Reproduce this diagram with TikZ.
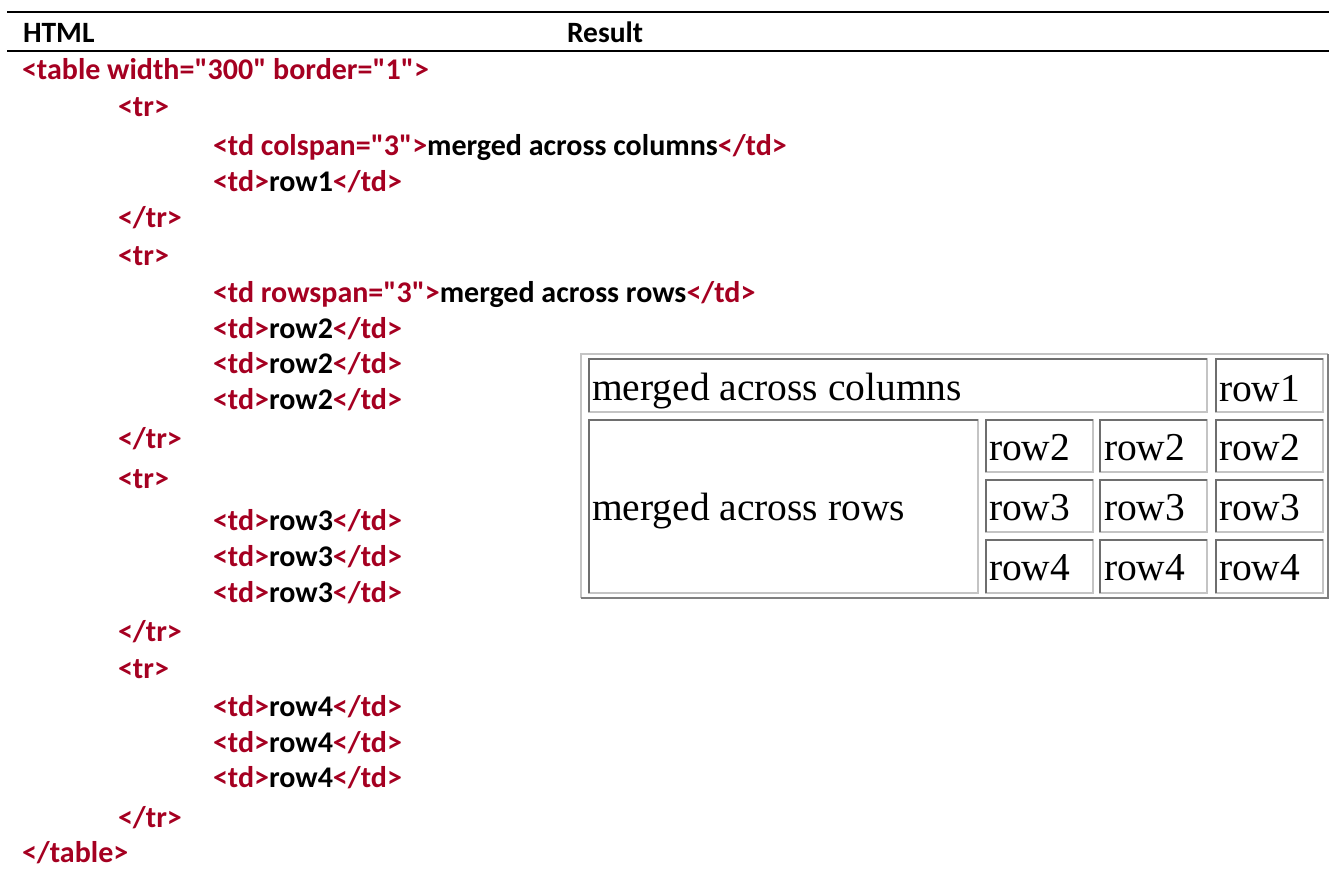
\documentclass[tikz,border=0pt]{standalone}
\usepackage{fontspec}
\setmainfont{Carlito}
\newfontfamily\codefont{Carlito}
\newfontfamily\tabfont{Liberation Serif}
\definecolor{tagred}{HTML}{A50021}
\definecolor{darkgr}{HTML}{6E6E6E}
\definecolor{lightgr}{HTML}{C4C4C4}
\newcommand{\cellbox}[4]{%
  \draw[lightgr, line width=2] (#1+1,#2+1) rectangle (#3-1,#4-1);
  \draw[darkgr, line width=2] (#1+1,#4-1) -- (#1+1,#2+1) -- (#3-1,#2+1);
}
\newcommand{\tg}[1]{\textcolor{tagred}{#1}}
\begin{document}
\begin{tikzpicture}[x=1pt,y=-1pt,
  code/.style={anchor=base west, inner sep=0pt, outer sep=0pt, text=black,
    font=\codefont\bfseries\fontsize{30}{30}\selectfont},
  head/.style={anchor=base west, inner sep=0pt, outer sep=0pt, text=black,
    font=\codefont\bfseries\fontsize{29.5}{29.5}\selectfont},
  celltext/.style={anchor=base west, inner sep=0pt, outer sep=0pt, text=black,
    font=\tabfont\fontsize{39.5}{39.5}\selectfont},
  rule/.style={black, line width=2.8}]
\useasboundingbox (0,0) rectangle (1329,870);
% header rules
\coordinate (r1a) at (7,12); \coordinate (r1b) at (1329,12);
\coordinate (r2a) at (7,51); \coordinate (r2b) at (1329,51);
\draw[rule] (r1a) -- (r1b);
\draw[rule] (r2a) -- (r2b);
\node[head] (hhtml) at (23,42) {HTML};
\node[head] (hres) at (567,42) {Result};
% code lines
\node[code] (c0) at (22,79) {\tg{<table width="300" border="1">}};
\node[code] (c1) at (118,116) {\tg{<tr>}};
\node[code] (c2) at (213,155) {\tg{<td colspan="3">}merged across columns\tg{</td>}};
\node[code] (c3) at (213,191) {\tg{<td>}row1\tg{</td>}};
\node[code] (c4) at (118,227) {\tg{</tr>}};
\node[code] (c5) at (118,265) {\tg{<tr>}};
\node[code] (c6) at (213,302) {\tg{<td rowspan="3">}merged across rows\tg{</td>}};
\node[code] (c7) at (213,338) {\tg{<td>}row2\tg{</td>}};
\node[code] (c8) at (213,373) {\tg{<td>}row2\tg{</td>}};
\node[code] (c9) at (213,409) {\tg{<td>}row2\tg{</td>}};
\node[code] (c10) at (118,448) {\tg{</tr>}};
\node[code] (c11) at (118,488) {\tg{<tr>}};
\node[code] (c12) at (213,530) {\tg{<td>}row3\tg{</td>}};
\node[code] (c13) at (213,566) {\tg{<td>}row3\tg{</td>}};
\node[code] (c14) at (213,602) {\tg{<td>}row3\tg{</td>}};
\node[code] (c15) at (118,641) {\tg{</tr>}};
\node[code] (c16) at (118,678) {\tg{<tr>}};
\node[code] (c17) at (213,716) {\tg{<td>}row4\tg{</td>}};
\node[code] (c18) at (213,752) {\tg{<td>}row4\tg{</td>}};
\node[code] (c19) at (213,787) {\tg{<td>}row4\tg{</td>}};
\node[code] (c20) at (118,827) {\tg{</tr>}};
\node[code] (c21) at (22,862) {\tg{</table>}};
% result table: outer border
\draw[lightgr, line width=2] (581,598) -- (581,354) -- (1328,354);
\draw[darkgr!80!lightgr, line width=2] (581,598) -- (1328,598) -- (1328,354);
% cells
\cellbox{588}{358}{1208}{413}
\cellbox{1215}{358}{1324}{413}
\cellbox{588}{419}{979}{594}
\cellbox{985}{419}{1094}{473}
\cellbox{1099}{419}{1208}{473}
\cellbox{1215}{419}{1324}{473}
\cellbox{985}{479}{1094}{533}
\cellbox{1099}{479}{1208}{533}
\cellbox{1215}{479}{1324}{533}
\cellbox{985}{539}{1094}{594}
\cellbox{1099}{539}{1208}{594}
\cellbox{1215}{539}{1324}{594}
% cell texts
\node[celltext] (tmc) at (592,400) {merged across columns};
\node[celltext] (tr1) at (1219,401) {row1};
\node[celltext] (tmr) at (592,520) {merged across rows};
\node[celltext] (t21) at (989,460) {row2};
\node[celltext] (t22) at (1104,460) {row2};
\node[celltext] (t23) at (1219,460) {row2};
\node[celltext] (t31) at (989,520) {row3};
\node[celltext] (t32) at (1104,520) {row3};
\node[celltext] (t33) at (1219,520) {row3};
\node[celltext] (t41) at (989,580) {row4};
\node[celltext] (t42) at (1104,580) {row4};
\node[celltext] (t43) at (1219,580) {row4};
\end{tikzpicture}
\end{document}
